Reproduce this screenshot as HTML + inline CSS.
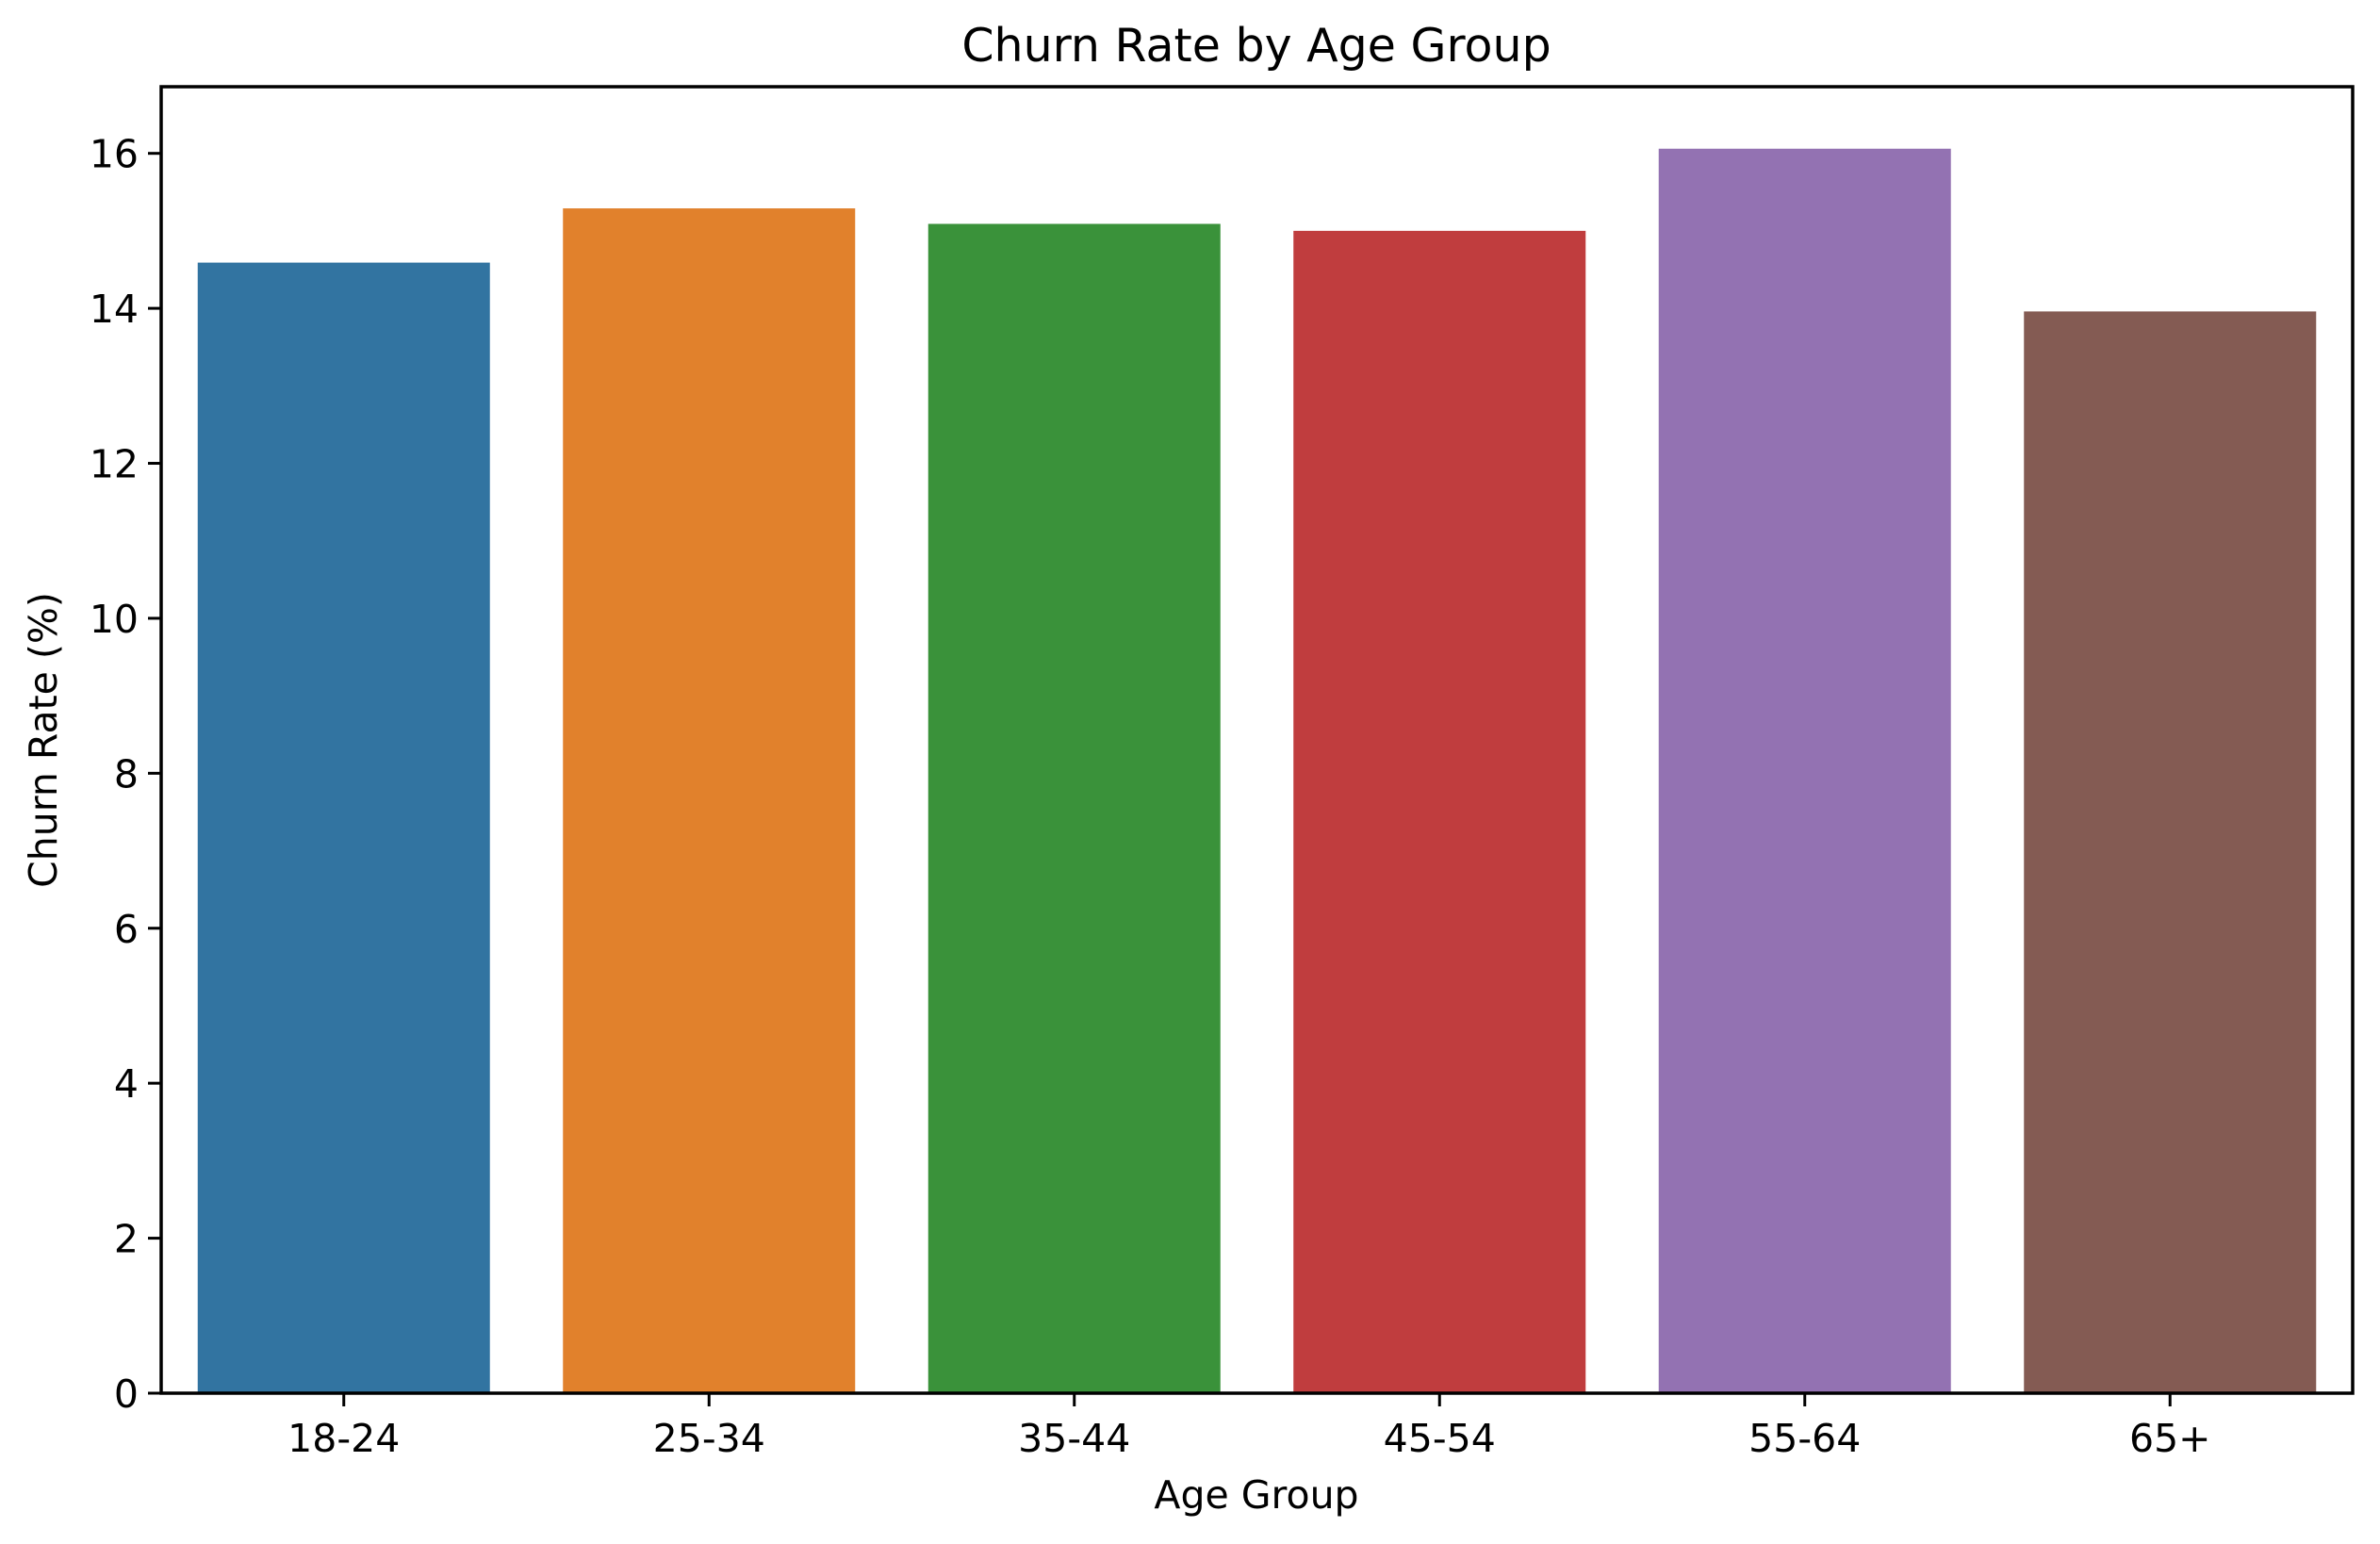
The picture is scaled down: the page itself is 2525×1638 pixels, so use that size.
<!DOCTYPE html>
<html><head><meta charset="utf-8"><style>
html,body{margin:0;padding:0;background:#fff;}
svg{display:block;font-family:"DejaVu Sans","Liberation Sans",sans-serif;}
</style></head><body>
<svg id="chart" width="2525" height="1638" viewBox="0 0 2525 1638" xmlns="http://www.w3.org/2000/svg">
<rect width="2525" height="1638" fill="#fff"/>
<text x="1333" y="65" text-anchor="middle" font-size="49" fill="#000">Churn Rate by Age Group</text>
<text x="1333" y="1600" text-anchor="middle" font-size="41" fill="#000">Age Group</text>
<text transform="translate(60,785) rotate(-90)" text-anchor="middle" font-size="41" fill="#000">Churn Rate (%)</text>
<g id="bars"></g>
<g id="axes"></g>
</svg>
<script>
const categories = ["18-24","25-34","35-44","45-54","55-64","65+"];
const churnValues = [14.59, 15.29, 15.09, 15.00, 16.06, 13.96];
const barColors = ["#3274a1","#e1812c","#3a923a","#c03d3e","#9372b2","#845b53"];
const yTicks = [0,2,4,6,8,10,12,14,16];

const L=171, R=2496, T=92, B=1478, yMax=16.86;
const NS="http://www.w3.org/2000/svg";
const yScale = v => B - v/yMax*(B-T);
const slot = (R-L)/categories.length;
const xCenter = i => L + slot*(i+0.5);
const bw = slot*0.8;
const bars=document.getElementById('bars'), axes=document.getElementById('axes');
function mk(tag, attrs, parent){const e=document.createElementNS(NS,tag);for(const k in attrs)e.setAttribute(k,attrs[k]);parent.appendChild(e);return e;}

categories.forEach((c,i)=>{
  const r=mk('rect',{x:xCenter(i)-bw/2,y:yScale(churnValues[i]),width:bw,height:B-yScale(churnValues[i]),fill:barColors[i]},bars);
  
  
  const t=mk('line',{x1:xCenter(i),x2:xCenter(i),y1:B,y2:B+14,stroke:'#000','stroke-width':3},axes);
  
  
  const lb=mk('text',{x:xCenter(i),y:B+62,'text-anchor':'middle','font-size':41,fill:'#000'},axes);
  lb.textContent=c;
  
  
});
yTicks.forEach(v=>{
  const y=yScale(v);
  const t=mk('line',{x1:L-14,x2:L,y1:y,y2:y,stroke:'#000','stroke-width':3},axes);
  
  
  const lb=mk('text',{x:L-24,y:y+15,'text-anchor':'end','font-size':41,fill:'#000'},axes);
  lb.textContent=v;
  
  
});
const fr=mk('rect',{x:L,y:T,width:R-L,height:B-T,fill:'none',stroke:'#000','stroke-width':3.5},axes);


</script>
</body></html>
